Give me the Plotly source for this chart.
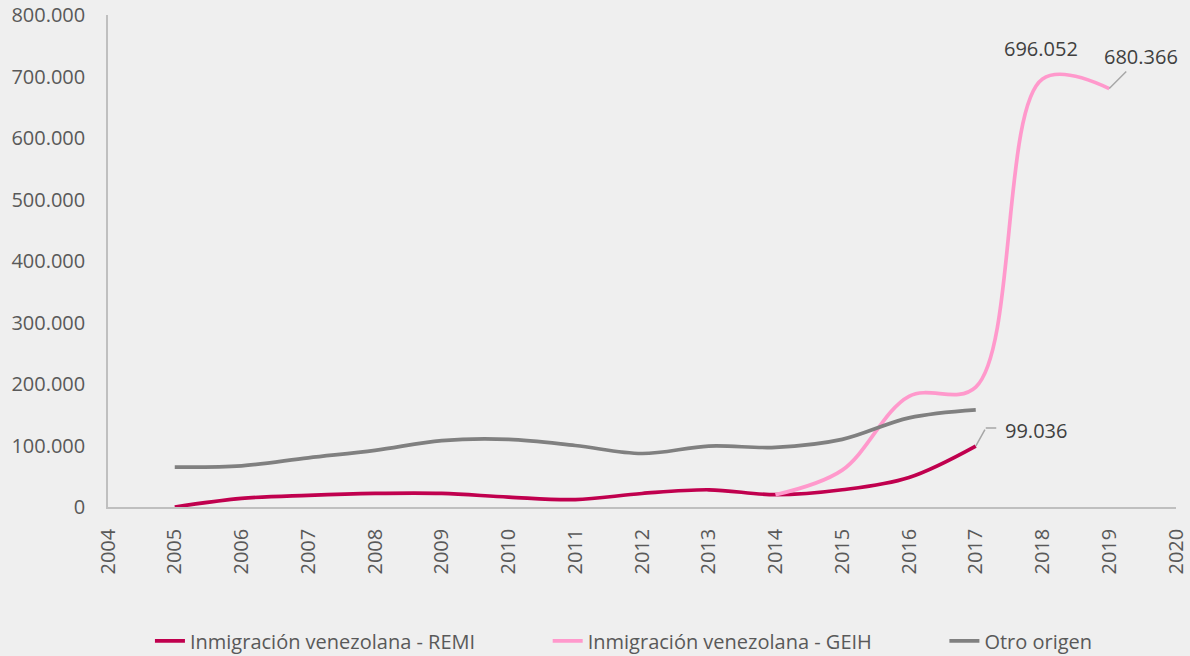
import plotly.graph_objects as go

years_remi = [2005, 2006, 2007, 2008, 2009, 2010, 2011, 2012, 2013, 2014, 2015, 2016, 2017]
remi = [0, 14000, 19000, 22000, 22000, 16000, 12000, 22000, 28000, 20000, 28000, 48000, 99036]

years_geih = [2014, 2015, 2016, 2017, 2018, 2019]
geih = [20000, 60000, 180000, 195000, 696052, 680366]

years_otro = [2005, 2006, 2007, 2008, 2009, 2010, 2011, 2012, 2013, 2014, 2015, 2016, 2017]
otro = [65000, 67000, 80000, 92000, 108000, 110000, 100000, 87000, 99000, 97000, 110000, 145000, 158000]

names = ["Inmigración venezolana - REMI", "Inmigración venezolana - GEIH", "Otro origen"]
colors = ["#C0004E", "#FF99CC", "#808080"]

FONT = "Open Sans, Segoe UI, sans-serif"
TXT = "#595959"
PAD = "\u00a0" * 13

fig = go.Figure()
for i, (xs, ys, nm, col) in enumerate([(years_remi, remi, names[0], colors[0]),
                                       (years_geih, geih, names[1], colors[1]),
                                       (years_otro, otro, names[2], colors[2])]):
    label = nm + (PAD if i < 2 else "")
    fig.add_trace(go.Scatter(x=xs, y=ys, name=label, mode="lines",
                             line=dict(color=col, width=3.7, shape="spline", smoothing=1.0)))

ann_font = dict(family=FONT, size=20, color="#404040")
LEAD = "#A6A6A6"
fig.add_annotation(x=2018, y=geih[4], text="696.052", showarrow=False, yshift=30, xshift=-2, font=ann_font)
fig.add_annotation(x=2019, y=geih[5], text="680.366", showarrow=True, arrowhead=0, arrowwidth=1.5,
                   arrowcolor=LEAD, ax=32, ay=-32, font=ann_font)
# elbow leader line for the REMI label
fig.add_annotation(x=2017, y=remi[-1], text="", showarrow=True, arrowhead=0, arrowwidth=1.5,
                   arrowcolor=LEAD, ax=10, ay=-18, standoff=0, startstandoff=0)
fig.add_annotation(x=2017, y=remi[-1], text="", showarrow=True, arrowhead=0, arrowwidth=1.5,
                   arrowcolor=LEAD, ax=12, ay=0, xshift=10, yshift=18, standoff=0, startstandoff=0)
fig.add_annotation(x=2017, y=remi[-1], text="99.036", showarrow=False, xanchor="left",
                   xshift=27, yshift=16, font=ann_font)

fig.update_layout(
    width=1190, height=656,
    paper_bgcolor="#EFEFEF", plot_bgcolor="#EFEFEF",
    margin=dict(l=108, r=14, t=15, b=149, autoexpand=False),
    separators=",.",
    font=dict(family=FONT, size=20, color=TXT),
    showlegend=True,
    legend=dict(orientation="h", xref="container", x=0.126, xanchor="left",
                yref="container", y=0.023, yanchor="middle",
                font=dict(family=FONT, size=20, color=TXT), bgcolor="rgba(0,0,0,0)"),
    xaxis=dict(range=[2004, 2020], dtick=1, tick0=2004, tickangle=-90, showgrid=False,
               showline=True, linecolor="#BFBFBF", linewidth=1.5, zeroline=False, automargin=False,
               tickfont=dict(family=FONT, size=20, color=TXT), ticks="", ticklabelstandoff=12),
    yaxis=dict(range=[0, 800000], dtick=100000, tickformat=",d", showgrid=False, automargin=False,
               showline=True, linecolor="#BFBFBF", linewidth=1.5, zeroline=False,
               tickfont=dict(family=FONT, size=20, color=TXT), ticks="", ticklabelstandoff=17),
)

fig.write_html("out.html", config={"displayModeBar": False},
               post_script="document.body.style.margin='0';document.body.style.background='#EFEFEF';")
